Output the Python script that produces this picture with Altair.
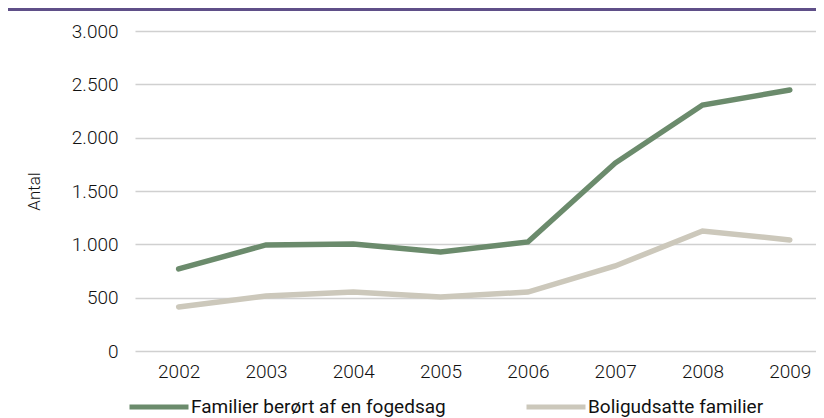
import altair as alt
import pandas as pd

years = [2002, 2003, 2004, 2005, 2006, 2007, 2008, 2009]
fogedsag = [769, 994, 1003, 928, 1022, 1762, 2306, 2447]
boligudsatte = [413, 516, 553, 506, 553, 797, 1125, 1041]
series_names = ["Familier berørt af en fogedsag", "Boligudsatte familier"]
colors = ["#6b8b6c", "#ccc8bb"]

rows = []
for i, y in enumerate(years):
    rows.append({"year": y, "value": fogedsag[i], "series": series_names[0]})
    rows.append({"year": y, "value": boligudsatte[i], "series": series_names[1]})
df = pd.DataFrame(rows)

FONT = "Roboto"

lines = alt.Chart(df).mark_line(strokeWidth=5.5, strokeCap="round", clip=True).encode(
    x=alt.X("year:Q", scale=alt.Scale(domain=[2001.5, 2009.3], nice=False, zero=False),
            axis=alt.Axis(values=years, format="d", title=None, grid=False, ticks=False,
                          domain=False, labelPadding=11, labelFontSize=19,
                          labelFont=FONT, labelFontWeight=300, labelColor="#111111")),
    y=alt.Y("value:Q", scale=alt.Scale(domain=[0, 3000], nice=False),
            axis=alt.Axis(values=[0, 500, 1000, 1500, 2000, 2500, 3000],
                          labelExpr="replace(format(datum.value, ','), ',', '.')",
                          title="Antal", titleFont=FONT, titleFontWeight=300,
                          titleFontSize=17, titleColor="#111111", titlePadding=28,
                          grid=True, gridColor="#d0d0d0", gridWidth=1.5,
                          ticks=False, domain=False, labelPadding=17,
                          labelFontSize=19, labelFont=FONT, labelFontWeight=300,
                          labelColor="#111111")),
    color=alt.Color("series:N", scale=alt.Scale(domain=series_names, range=colors),
                    sort=series_names,
                    legend=alt.Legend(title=None, orient="none", legendX=-8, legendY=344,
                                      direction="horizontal", symbolType="stroke",
                                      symbolSize=3481, symbolStrokeWidth=5,
                                      labelFont=FONT, labelFontSize=19,
                                      labelColor="#111111", labelOffset=0,
                                      columnPadding=70, labelLimit=400)),
)

topbar = alt.Chart(pd.DataFrame({"k": [0]})).mark_rule(color="#5f4f88", strokeWidth=3).encode(
    x=alt.value(-128), x2=alt.value(681), y=alt.value(-21.5)
)

chart = alt.layer(lines, topbar).properties(
    width=681, height=320,
    autosize=alt.AutoSizeParams(type="none"),
    padding={"left": 127, "top": 23, "right": 0, "bottom": 66},
).configure_view(stroke=None)

chart.save("out.html", embed_options={"renderer": "svg", "actions": False})
